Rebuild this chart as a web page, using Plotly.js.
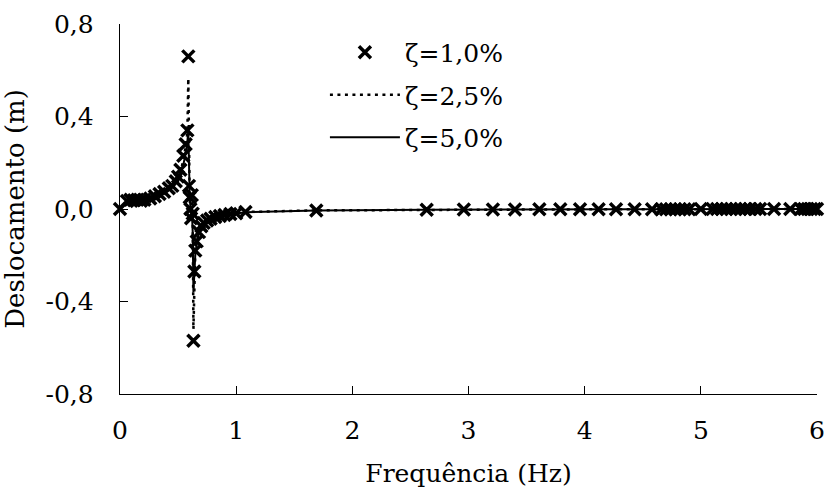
<!DOCTYPE html>
<html>
<head>
<meta charset="utf-8">
<script src="https://cdn.plot.ly/plotly-3.0.1.min.js"></script>
<style>html,body{margin:0;padding:0;background:#fff;}#chart{width:825px;height:490px;}</style>
</head>
<body>
<div id="chart"></div>
<script>
// Frequency samples (Hz)
const freq = [
  0, 0.06, 0.09, 0.12, 0.15, 0.18, 0.21, 0.26, 0.30, 0.34,
  0.38, 0.42, 0.45, 0.48, 0.50, 0.52, 0.545, 0.565, 0.58, 0.588,
  0.594, 0.60, 0.606, 0.612, 0.618, 0.626, 0.632, 0.64, 0.648, 0.66,
  0.68, 0.70, 0.72, 0.75, 0.78, 0.82, 0.86, 0.90, 0.95, 1.0,
  1.08, 1.69, 2.64, 2.96, 3.21, 3.40, 3.61, 3.79, 3.96, 4.12,
  4.27, 4.43, 4.58, 4.66, 4.70, 4.74, 4.78, 4.82, 4.86, 4.90,
  5.0, 5.10, 5.14, 5.18, 5.22, 5.26, 5.30, 5.34, 5.38, 5.42,
  5.47, 5.51, 5.63, 5.77, 5.86, 5.89, 5.92, 5.95, 5.98, 6.0
];
// Displacement (m), damping 1.0 %
const disp1 = [
  0, 0.035, 0.04, 0.038, 0.04, 0.036, 0.04, 0.045, 0.055, 0.065,
  0.075, 0.09, 0.10, 0.12, 0.14, 0.17, 0.23, 0.28, 0.34, 0.66,
  0.10, 0.05, 0.0, -0.04, 0.06, -0.02, -0.57, -0.27, -0.18, -0.14,
  -0.10, -0.075, -0.06, -0.05, -0.042, -0.035, -0.03, -0.026, -0.022, -0.018,
  -0.013, -0.006, -0.003, -0.002, -0.002, -0.002, -0.001, -0.001, -0.001, -0.001,
  -0.001, -0.001, -0.001, -0.001, -0.001, -0.001, -0.001, -0.001, -0.001, -0.001,
  0, 0, 0, 0, 0, 0, 0, 0, 0, 0,
  0, 0, 0, 0, 0, 0, 0, 0, 0, 0
];
// Displacement (m), damping 2.5 %
const disp25 = [
  0, 0.034, 0.039, 0.037, 0.039, 0.036, 0.04, 0.044, 0.053, 0.063,
  0.073, 0.087, 0.097, 0.115, 0.13, 0.16, 0.21, 0.27, 0.33, 0.565,
  0.08, 0.04, 0.0, -0.03, 0.03, -0.05, -0.52, -0.30, -0.19, -0.14,
  -0.10, -0.075, -0.06, -0.05, -0.042, -0.035, -0.03, -0.026, -0.022, -0.018,
  -0.013, -0.006, -0.003, -0.002, -0.002, -0.002, -0.001, -0.001, -0.001, -0.001,
  -0.001, -0.001, -0.001, -0.001, -0.001, -0.001, -0.001, -0.001, -0.001, -0.001,
  0, 0, 0, 0, 0, 0, 0, 0, 0, 0,
  0, 0, 0, 0, 0, 0, 0, 0, 0, 0
];
// Displacement (m), damping 5.0 %
const disp5 = [
  0, 0.033, 0.038, 0.036, 0.038, 0.035, 0.039, 0.043, 0.05, 0.06,
  0.07, 0.083, 0.092, 0.108, 0.12, 0.145, 0.19, 0.24, 0.29, 0.34,
  0.12, 0.05, 0.01, -0.02, 0.0, -0.1, -0.36, -0.28, -0.2, -0.15,
  -0.105, -0.08, -0.063, -0.052, -0.044, -0.036, -0.031, -0.027, -0.023, -0.019,
  -0.014, -0.006, -0.003, -0.002, -0.002, -0.002, -0.001, -0.001, -0.001, -0.001,
  -0.001, -0.001, -0.001, -0.001, -0.001, -0.001, -0.001, -0.001, -0.001, -0.001,
  0, 0, 0, 0, 0, 0, 0, 0, 0, 0,
  0, 0, 0, 0, 0, 0, 0, 0, 0, 0
];
const seriesNames = ['ζ=1,0%', 'ζ=2,5%', 'ζ=5,0%'];
const yTickVals = [-0.8, -0.4, 0, 0.4, 0.8];
const yTickText = ['-0,8', '-0,4', '0,0', '0,4', '0,8'];
const xTickVals = [0, 1, 2, 3, 4, 5, 6];

const FONT = 'DejaVu Serif';
const FS = 25;

const traces = [
  {x: freq, y: disp1, name: seriesNames[0], mode: 'markers', legendgroup: 'a',
   marker: {symbol: 'x-thin', size: 12, color: '#000', line: {color: '#000', width: 3.5}},
   cliponaxis: false},
  {x: freq, y: disp25, name: seriesNames[1], mode: 'lines', legendgroup: 'b',
   line: {color: '#000', width: 2.5, dash: '3px,4.5px'}},
  {x: freq, y: disp5, name: seriesNames[2], mode: 'lines', legendgroup: 'c',
   line: {color: '#000', width: 2}}
];

const layout = {
  width: 825, height: 490,
  margin: {l: 120, r: 8, t: 24, b: 96},
  paper_bgcolor: '#fff', plot_bgcolor: '#fff',
  font: {family: FONT, size: FS, color: '#000'},
  showlegend: true,
  legend: {x: 0.294, y: 0.985, xanchor: 'left', yanchor: 'top',
           bgcolor: 'rgba(0,0,0,0)', itemwidth: 70, tracegroupgap: 7,
           traceorder: 'grouped', font: {family: FONT, size: FS, color: '#000'}},
  xaxis: {range: [0, 6], tickvals: xTickVals, ticks: 'inside', ticklen: 8,
          tickcolor: '#000', showline: true, linecolor: '#000', linewidth: 1.3,
          showgrid: false, zeroline: false, ticklabelstandoff: 14, ticklabeloverflow: 'allow',
          tickfont: {family: FONT, size: FS, color: '#000'},
          title: {text: 'Frequência (Hz)', standoff: 20, font: {family: FONT, size: FS, color: '#000'}}},
  yaxis: {range: [-0.8, 0.8], tickvals: yTickVals, ticktext: yTickText, ticks: 'inside', ticklen: 8,
          tickcolor: '#000', showline: true, linecolor: '#000', linewidth: 1.3,
          showgrid: false, zeroline: false, ticklabelstandoff: 20,
          tickfont: {family: FONT, size: FS, color: '#000'},
          title: {text: 'Deslocamento (m)', standoff: 16, font: {family: FONT, size: 26, color: '#000'}}}
};

Plotly.newPlot('chart', traces, layout, {displayModeBar: false, staticPlot: true});
</script>
</body>
</html>
